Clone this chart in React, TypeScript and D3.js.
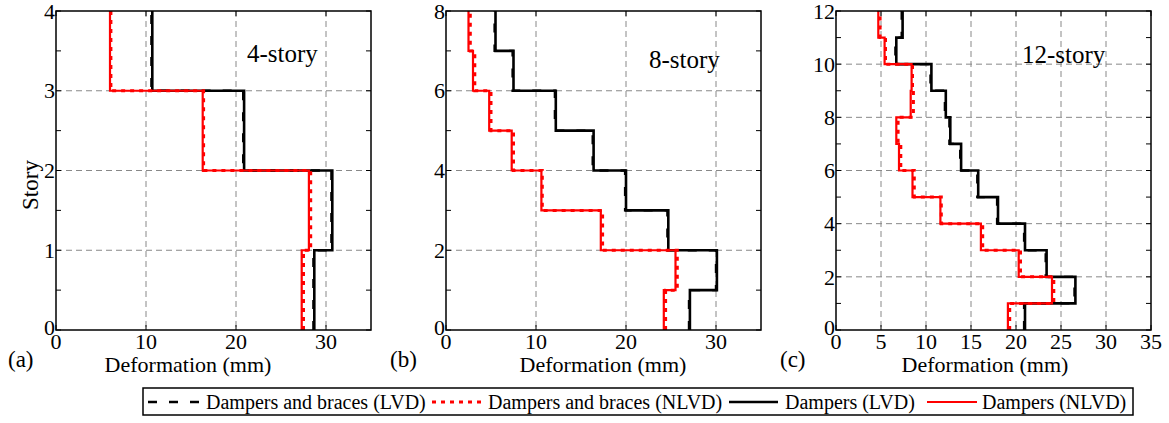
import React from 'react';
import * as d3 from 'd3';

// story drift values (mm), listed from the ground storey up
const dampLVD4 = [28.7, 30.7, 20.9, 10.7];
const braceLVD4 = [28.6, 30.6, 20.8, 10.6];
const dampNLVD4 = [27.3, 28.1, 16.3, 6.0];
const braceNLVD4 = [27.5, 28.3, 16.4, 6.1];

const dampLVD8 = [27.1, 30.1, 24.7, 20.0, 16.4, 12.2, 7.5, 5.5];
const braceLVD8 = [27.0, 30.0, 24.6, 19.9, 16.3, 12.1, 7.4, 5.4];
const dampNLVD8 = [24.2, 25.5, 17.2, 10.6, 7.3, 4.8, 3.0, 2.5];
const braceNLVD8 = [24.4, 25.7, 17.4, 10.7, 7.5, 5.0, 3.2, 2.7];

const dampLVD12 = [21.0, 26.6, 23.4, 21.0, 18.0, 15.8, 13.9, 12.7, 12.2, 10.6, 6.7, 7.4];
const braceLVD12 = [20.9, 26.5, 23.3, 20.9, 17.9, 15.7, 13.8, 12.6, 12.1, 10.5, 6.6, 7.3];
const dampNLVD12 = [19.1, 24.0, 20.3, 16.1, 11.6, 8.5, 7.0, 6.7, 8.3, 8.4, 5.4, 4.7];
const braceNLVD12 = [19.3, 24.2, 20.5, 16.3, 11.7, 8.7, 7.2, 6.9, 8.6, 8.5, 5.5, 4.9];

const panelTitles = ['4-story', '8-story', '12-story'];
const panelTags = ['(a)', '(b)', '(c)'];
const storyCounts = [4, 8, 12];
const yTickSteps = [1, 2, 2];
const xTickLists = [
  [0, 10, 20, 30],
  [0, 10, 20, 30],
  [0, 5, 10, 15, 20, 25, 30, 35],
];
const legendLabels = [
  'Dampers and braces (LVD)',
  'Dampers and braces (NLVD)',
  'Dampers (LVD)',
  'Dampers (NLVD)',
];

const FONT = '"Liberation Serif", "Times New Roman", serif';

const panels = [
  { series: [dampLVD4, braceLVD4, dampNLVD4, braceNLVD4] },
  { series: [dampLVD8, braceLVD8, dampNLVD8, braceNLVD8] },
  { series: [dampLVD12, braceLVD12, dampNLVD12, braceNLVD12] },
];

// same order as series: damp LVD, brace LVD, damp NLVD, brace NLVD
const lineStyles = [
  { stroke: '#000', width: 2.6, dash: undefined as string | undefined },
  { stroke: '#000', width: 2.4, dash: '9,12' },
  { stroke: '#ff0000', width: 2.2, dash: undefined },
  { stroke: '#ff0000', width: 3, dash: '4,5' },
];

const layout = {
  lefts: [56, 446, 836],
  top: 11,
  width: 315,
  height: 319,
  titleDx: [191, 203, 186],
  titleY: [62, 68, 63],
  tagX: [8, 390, 780],
  xLabelCx: [188, 603, 985],
};

const Panel = ({ idx }: { idx: number }) => {
  const left = layout.lefts[idx];
  const top = layout.top;
  const w = layout.width;
  const h = layout.height;
  const n = storyCounts[idx];

  const x = d3.scaleLinear().domain([0, 35]).range([left, left + w]);
  const y = d3.scaleLinear().domain([0, n]).range([top + h, top]);

  const yMajor = d3.range(0, n + 0.001, yTickSteps[idx]);
  const yMinor = d3.range(0, n + 0.001, yTickSteps[idx] / 2);
  const xMajor = xTickLists[idx];

  const line = d3
    .line<[number, number]>()
    .x((d) => x(d[0]))
    .y((d) => y(d[1]));

  const stepPoints = (vals: number[]) =>
    vals.flatMap((v, i) => [
      [v, i] as [number, number],
      [v, i + 1] as [number, number],
    ]);

  const order = [0, 1, 2, 3];

  return (
    <g>
      {/* grid */}
      {xMajor
        .filter((t) => t > 0 && t < 35)
        .map((t) => (
          <line
            key={'gx' + t}
            x1={x(t)}
            x2={x(t)}
            y1={top}
            y2={top + h}
            stroke="#888"
            strokeWidth={1}
            strokeDasharray="6,4"
          />
        ))}
      {yMajor
        .filter((t) => t > 0 && t < n)
        .map((t) => (
          <line
            key={'gy' + t}
            x1={left}
            x2={left + w}
            y1={y(t)}
            y2={y(t)}
            stroke="#888"
            strokeWidth={1}
            strokeDasharray="6,4"
          />
        ))}

      {/* inward ticks */}
      {yMinor.map((t) => (
        <g key={'ty' + t}>
          <line x1={left} x2={left + 5} y1={y(t)} y2={y(t)} stroke="#000" />
          <line x1={left + w} x2={left + w - 5} y1={y(t)} y2={y(t)} stroke="#000" />
        </g>
      ))}
      {xMajor.map((t) => (
        <g key={'tx' + t}>
          <line x1={x(t)} x2={x(t)} y1={top + h} y2={top + h - 5} stroke="#000" />
          <line x1={x(t)} x2={x(t)} y1={top} y2={top + 5} stroke="#000" />
        </g>
      ))}

      {/* step profiles */}
      {order.map((s) => {
        const st = lineStyles[s];
        return (
          <path
            key={'s' + s}
            d={line(stepPoints(panels[idx].series[s])) || ''}
            fill="none"
            stroke={st.stroke}
            strokeWidth={st.width}
            strokeDasharray={st.dash}
          />
        );
      })}

      {/* frame */}
      <rect x={left} y={top} width={w} height={h} fill="none" stroke="#000" strokeWidth={1.5} />

      {/* tick labels */}
      {yMajor.map((t) => (
        <text
          key={'ly' + t}
          x={left - 1}
          y={t === 0 ? y(t) - 3 : y(t)}
          dy="0.35em"
          textAnchor="end"
          fontFamily={FONT}
          fontSize={22}
          fill="#000"
        >
          {t}
        </text>
      ))}
      {xMajor.map((t) => (
        <text
          key={'lx' + t}
          x={x(t)}
          y={top + h + 19}
          textAnchor="middle"
          fontFamily={FONT}
          fontSize={22}
          fill="#000"
        >
          {t}
        </text>
      ))}

      <text
        x={left + layout.titleDx[idx]}
        y={layout.titleY[idx]}
        fontFamily={FONT}
        fontSize={25}
        fill="#000"
      >
        {panelTitles[idx]}
      </text>
      <text x={layout.tagX[idx]} y={367} fontFamily={FONT} fontSize={23} fill="#000">
        {panelTags[idx]}
      </text>
      <text
        x={layout.xLabelCx[idx]}
        y={372}
        textAnchor="middle"
        fontFamily={FONT}
        fontSize={22}
        fill="#000"
      >
        Deformation (mm)
      </text>
    </g>
  );
};

const Legend = () => {
  const box = { x: 143, y: 388, w: 990, h: 27 };
  const cy = 402;
  const samples = [
    { x1: 148, x2: 202, tx: 206 },
    { x1: 432, x2: 482, tx: 488 },
    { x1: 729, x2: 778, tx: 785 },
    { x1: 927, x2: 977, tx: 982 },
  ];
  // legend order: brace LVD, brace NLVD, damp LVD, damp NLVD
  const styleIdx = [1, 3, 0, 2];
  return (
    <g>
      <rect x={box.x} y={box.y} width={box.w} height={box.h} fill="#fff" stroke="#000" strokeWidth={1.5} />
      {samples.map((s, i) => {
        const st = lineStyles[styleIdx[i]];
        return (
          <g key={i}>
            <line
              x1={s.x1}
              x2={s.x2}
              y1={cy}
              y2={cy}
              stroke={st.stroke}
              strokeWidth={st.width}
              strokeDasharray={st.dash}
            />
            <text x={s.tx} y={409} fontFamily={FONT} fontSize={20} fill="#000">
              {legendLabels[i]}
            </text>
          </g>
        );
      })}
    </g>
  );
};

const App = () => {
  return (
    <svg
      width={1169}
      height={423}
      style={{ position: 'absolute', left: 0, top: 0, background: '#fff' }}
    >
      <text
        transform="translate(38,185) rotate(-90)"
        textAnchor="middle"
        fontFamily={FONT}
        fontSize={23}
        fill="#000"
      >
        Story
      </text>
      {[0, 1, 2].map((i) => (
        <Panel key={i} idx={i} />
      ))}
      <Legend />
    </svg>
  );
};

export default App;
